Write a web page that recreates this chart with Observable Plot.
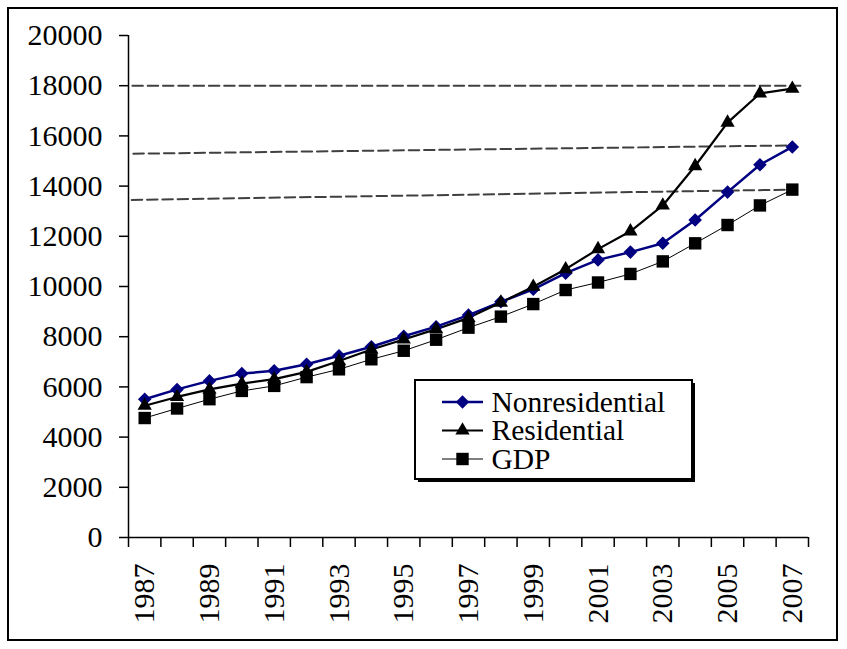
<!DOCTYPE html>
<html><head><meta charset="utf-8">
<script src="https://cdn.jsdelivr.net/npm/d3@7"></script>
<script src="https://cdn.jsdelivr.net/npm/@observablehq/plot@0.6"></script>
<style>
body{margin:0;background:#fff;}
#wrap{position:relative;width:847px;height:649px;overflow:hidden;background:#fff;}
#frame{position:absolute;left:7px;top:7px;width:827px;height:630px;border:2px solid #000;pointer-events:none;}
#legend{position:absolute;left:410px;top:375px;}
</style></head><body>
<div id="wrap"><div id="frame"></div></div>
<script>
// ---- data ----
const years = [1987,1988,1989,1990,1991,1992,1993,1994,1995,1996,1997,1998,1999,2000,2001,2002,2003,2004,2005,2006,2007];
const nonresidential = [5510,5900,6240,6530,6640,6900,7240,7600,8020,8400,8860,9390,9890,10530,11060,11370,11720,12650,13760,14850,15560];
const residential = [5250,5600,5900,6130,6310,6600,7030,7490,7890,8300,8750,9360,9990,10690,11490,12200,13230,14800,16530,17690,17880];
const gdp = [4760,5140,5510,5840,6040,6390,6700,7100,7440,7880,8360,8800,9300,9860,10160,10500,11000,11720,12450,13230,13860];
const seriesNames = ["Nonresidential","Residential","GDP"];
const yTicks = [0,2000,4000,6000,8000,10000,12000,14000,16000,18000,20000];
const xLabelYears = [1987,1989,1991,1993,1995,1997,1999,2001,2003,2005,2007];
const xBoundaries = [1986.5,1987.5,1988.5,1989.5,1990.5,1991.5,1992.5,1993.5,1994.5,1995.5,1996.5,1997.5,1998.5,1999.5,2000.5,2001.5,2002.5,2003.5,2004.5,2005.5,2006.5,2007.5];
// dashed reference lines (start and end points: year, value)
const refLineTop = [[1986.62,18000],[2007.25,18000]];
const refLineMid = [[1986.65,15290],[2007.0,15620]];
const refLineLow = [[1986.6,13450],[2007.0,13860]];

// ---- styles ----
const navy = "#000080";
const serif = "'Liberation Serif','Times New Roman',serif";
const styles = [
  {stroke: navy, strokeWidth: 2.5, symbol: "diamond2", r: 6.1},
  {stroke: "#000", strokeWidth: 2.2, symbol: "triangle", r: 5.3},
  {stroke: "#000", strokeWidth: 1, symbol: "square", r: 7.0}
];
const series = [nonresidential, residential, gdp];

const rows = series.map(vals => years.map((year, i) => ({year, value: vals[i]})));
const dash = {x: d => d[0], y: d => d[1], stroke: "#404040", strokeWidth: 2, strokeDasharray: "10.5,4.8"};

const marks = [
  Plot.line(refLineTop, dash),
  Plot.line(refLineMid, dash),
  Plot.line(refLineLow, dash),
  Plot.ruleX([1986.5], {y1: 0, y2: 20000, stroke: "#000", strokeWidth: 1.5}),
  Plot.ruleY([0], {x1: 1986.5, x2: 2007.5, stroke: "#000", strokeWidth: 1.5}),
  Plot.axisY(yTicks, {tickSize: 9, tickPadding: 17, strokeWidth: 1.5, tickFormat: d => String(d), fontSize: 30}),
  Plot.axisX(xBoundaries, {tickSize: 10, strokeWidth: 1.5, tickFormat: () => ""}),
  Plot.axisX(xLabelYears, {tickSize: 0, tickPadding: 26, tickRotate: -90, tickFormat: d => String(d), fontSize: 30})
];
rows.forEach((data, k) => {
  marks.push(Plot.line(data, {x: "year", y: "value", stroke: styles[k].stroke, strokeWidth: styles[k].strokeWidth}));
});
rows.forEach((data, k) => {
  marks.push(Plot.dot(data, {x: "year", y: "value", symbol: styles[k].symbol, r: styles[k].r, fill: styles[k].stroke, stroke: "none"}));
});

const chart = Plot.plot({
  width: 847, height: 649,
  marginLeft: 128, marginRight: 39, marginTop: 35, marginBottom: 112,
  x: {type: "linear", domain: [1986.5, 2007.5], label: null},
  y: {type: "linear", domain: [0, 20000], label: null},
  style: {fontFamily: serif, fontSize: "30px", color: "#000", background: "transparent"},
  marks
});
const wrap = document.getElementById("wrap");
wrap.insertBefore(chart, wrap.firstChild);

// ---- legend ----
const lg = d3.select(wrap).append("svg").attr("id", "legend").attr("width", 292).attr("height", 112);
lg.append("rect").attr("x", 8).attr("y", 8).attr("width", 277).attr("height", 99).attr("fill", "#000");
lg.append("rect").attr("x", 5).attr("y", 5).attr("width", 277).attr("height", 99).attr("fill", "#fff").attr("stroke", "#000").attr("stroke-width", 2);
const symbolMap = {diamond2: d3.symbolDiamond2, triangle: d3.symbolTriangle, square: d3.symbolSquare};
const rowCenters = [27, 55.5, 84];
seriesNames.forEach((name, k) => {
  const cy = rowCenters[k];
  const s = styles[k];
  lg.append("line").attr("x1", 32).attr("x2", 73).attr("y1", cy).attr("y2", cy).attr("stroke", s.stroke).attr("stroke-width", s.strokeWidth);
  lg.append("path").attr("transform", `translate(52.5,${cy})`).attr("d", d3.symbol(symbolMap[s.symbol], Math.PI * s.r * s.r)()).attr("fill", s.stroke);
  lg.append("text").attr("x", 81.5).attr("y", cy + 9.8).attr("font-family", serif).attr("font-size", 29.5).attr("fill", "#000").text(name);
});
</script>
</body></html>
